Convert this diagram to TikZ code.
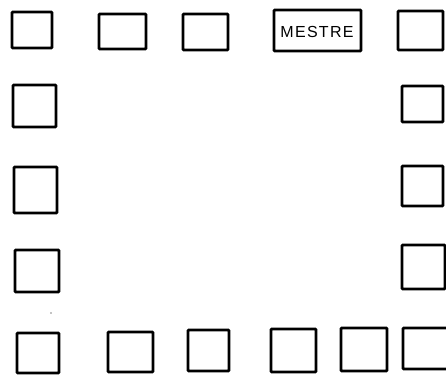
\documentclass[tikz,border=0pt]{standalone}
\usepackage{fontspec}
\setmainfont{Liberation Sans}
\begin{document}
\begin{tikzpicture}[x=1pt,y=-1pt,
  seat/.style={draw=black,line width=2.8pt,rounded corners=0.8pt},
  lbl/.style={font=\fontsize{16}{16}\selectfont\addfontfeature{LetterSpace=8},inner sep=0pt}]
\useasboundingbox (0,0) rectangle (446,376);
\begin{scope}
\clip (0,0) rectangle (446,376);
% top row
\draw[seat] (12,12) rectangle (52,48);
\draw[seat] (99,14) rectangle (146,49);
\draw[seat] (183,14) rectangle (228,50);
\draw[seat] (274,10) rectangle (361,51);
\node[lbl] (mestre) at (317,31.5) {MESTRE};
\draw[seat] (398,11) rectangle (443,50);
% left column
\draw[seat] (13,85) rectangle (56,127);
\draw[seat] (14,167) rectangle (57,213);
\draw[seat] (15,250) rectangle (59,292);
% right column
\draw[seat] (402,86) rectangle (443,122);
\draw[seat] (402,166) rectangle (443,206);
\draw[seat] (402,245) rectangle (445,289);
% bottom row
\draw[seat] (17,333) rectangle (59,373);
\draw[seat] (108,332) rectangle (153,372);
\draw[seat] (188,330) rectangle (229,371);
\draw[seat] (271,329) rectangle (316,372);
\draw[seat] (341,328) rectangle (387,371);
\draw[seat] (403,328) rectangle (450,369);
\end{scope}
\fill (51,313) circle (0.7pt);
\end{tikzpicture}
\end{document}
